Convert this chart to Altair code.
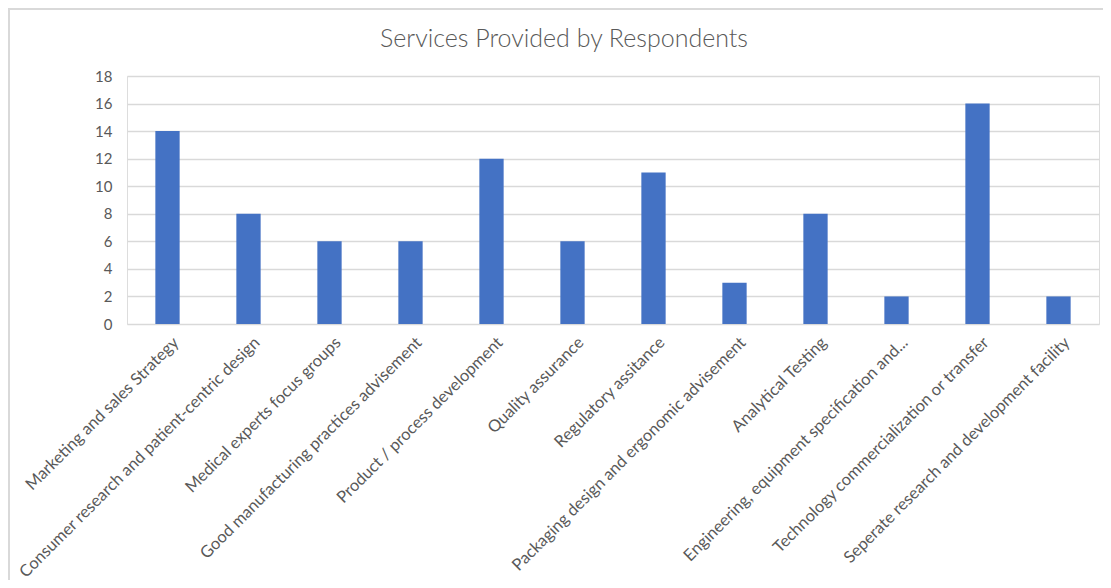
import altair as alt
import pandas as pd

title_text = "Services Provided by Respondents"
categories = [
    "Marketing and sales Strategy",
    "Consumer research and patient-centric design",
    "Medical experts focus groups",
    "Good manufacturing practices advisement",
    "Product / process development",
    "Quality assurance",
    "Regulatory assitance",
    "Packaging design and ergonomic advisement",
    "Analytical Testing",
    "Engineering, equipment specification and...",
    "Technology commercialization or transfer",
    "Seperate research and development facility",
]
values = [14, 8, 6, 6, 12, 6, 11, 3, 8, 2, 16, 2]
y_ticks = [0, 2, 4, 6, 8, 10, 12, 14, 16, 18]

df = pd.DataFrame({"service": categories, "count": values})

FONT = "Lato"
TEXT = "#595959"
GRID = "#d9d9d9"

bars = alt.Chart(df).mark_bar(color="#4472C4").encode(
    x=alt.X(
        "service:N",
        sort=categories,
        title=None,
        scale=alt.Scale(paddingInner=0.70, paddingOuter=0.35),
        axis=alt.Axis(
            labelAngle=-45,
            labelAlign="right",
            labelBaseline="top",
            labelFont=FONT,
            labelFontSize=16.5,
            labelColor=TEXT,
            labelLimit=1000,
            labelPadding=10,
            labelOffset=3,
            ticks=False,
            domain=False,
            grid=False,
        ),
    ),
    y=alt.Y(
        "count:Q",
        title=None,
        scale=alt.Scale(domain=[0, 18], nice=False),
        axis=alt.Axis(
            values=y_ticks,
            labelFont=FONT,
            labelFontSize=15,
            labelColor=TEXT,
            labelPadding=15,
            ticks=False,
            domain=False,
            gridColor=GRID,
            gridWidth=1.5,
        ),
    ),
)

frame = alt.Chart(df).mark_rect(fill=None, stroke=GRID, strokeWidth=1.5).encode(
    x=alt.value(-118),
    y=alt.value(-67),
    x2=alt.value(1000),
    y2=alt.value(520),
)

title = alt.Chart(pd.DataFrame({"t": [title_text]})).mark_text(
    font=FONT,
    fontSize=25,
    fontWeight=300,
    color=TEXT,
    align="center",
    baseline="alphabetic",
).encode(
    text="t:N",
    x=alt.value(437),
    y=alt.value(-29),
)

chart = alt.layer(frame, bars, title).properties(
    width=972,
    height=248,
    padding={"left": 119, "top": 68, "right": 4, "bottom": 256},
    autosize=alt.AutoSizeParams(type="none"),
).configure_view(stroke=None).configure(background="white")

chart.save("out.html", embed_options={"renderer": "svg", "actions": False})
